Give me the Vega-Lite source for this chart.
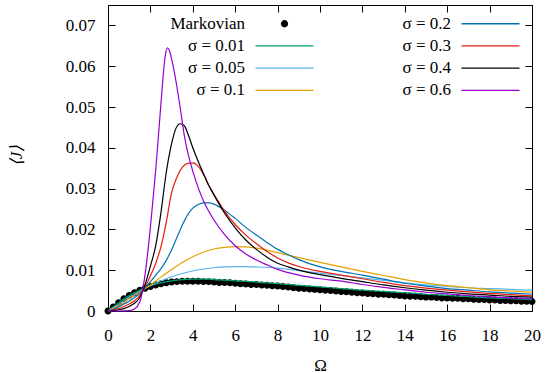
{
  "$schema": "https://vega.github.io/schema/vega-lite/v6.json",
  "width": 424,
  "height": 306,
  "autosize": {"type": "none"},
  "padding": {"left": 108, "top": 5, "right": 14, "bottom": 62},
  "background": "white",
  "config": {
    "view": {"stroke": "#000", "strokeWidth": 1},
    "font": "Liberation Serif",
    "axis": {"labelFont": "Liberation Serif", "labelFontSize": 17, "labelColor": "#000", "titleFont": "Liberation Serif", "titleFontSize": 17, "titleFontWeight": "normal", "titleColor": "#000", "tickColor": "#000", "tickWidth": 1, "grid": false, "domain": false, "labelFlush": false, "labelOverlap": false, "labelBound": false}
  },
  "data": {"values": [
    {"s":"Markovian","w":0,"j":0},{"s":"Markovian","w":0.25,"j":0.0010},{"s":"Markovian","w":0.5,"j":0.0020},{"s":"Markovian","w":0.75,"j":0.0030},{"s":"Markovian","w":1,"j":0.0038},{"s":"Markovian","w":1.25,"j":0.0045},{"s":"Markovian","w":1.5,"j":0.0051},{"s":"Markovian","w":1.75,"j":0.0056},{"s":"Markovian","w":2,"j":0.0060},{"s":"Markovian","w":2.25,"j":0.0064},{"s":"Markovian","w":2.5,"j":0.0067},{"s":"Markovian","w":2.75,"j":0.0069},{"s":"Markovian","w":3,"j":0.0071},{"s":"Markovian","w":3.25,"j":0.0072},{"s":"Markovian","w":3.5,"j":0.0073},{"s":"Markovian","w":3.75,"j":0.0073},{"s":"Markovian","w":4,"j":0.0073},{"s":"Markovian","w":4.25,"j":0.0073},{"s":"Markovian","w":4.5,"j":0.0072},{"s":"Markovian","w":4.75,"j":0.0072},{"s":"Markovian","w":5,"j":0.0071},{"s":"Markovian","w":5.25,"j":0.0070},{"s":"Markovian","w":5.5,"j":0.0070},{"s":"Markovian","w":5.75,"j":0.0069},{"s":"Markovian","w":6,"j":0.0068},{"s":"Markovian","w":6.25,"j":0.0067},{"s":"Markovian","w":6.5,"j":0.0066},{"s":"Markovian","w":6.75,"j":0.0065},{"s":"Markovian","w":7,"j":0.0065},{"s":"Markovian","w":7.25,"j":0.0064},{"s":"Markovian","w":7.5,"j":0.0063},{"s":"Markovian","w":7.75,"j":0.0062},{"s":"Markovian","w":8,"j":0.0061},{"s":"Markovian","w":8.25,"j":0.0060},{"s":"Markovian","w":8.5,"j":0.0059},{"s":"Markovian","w":8.75,"j":0.0057},{"s":"Markovian","w":9,"j":0.0056},{"s":"Markovian","w":9.25,"j":0.0055},{"s":"Markovian","w":9.5,"j":0.0054},{"s":"Markovian","w":9.75,"j":0.0053},{"s":"Markovian","w":10,"j":0.0052},{"s":"Markovian","w":10.25,"j":0.0051},{"s":"Markovian","w":10.5,"j":0.0050},{"s":"Markovian","w":10.75,"j":0.0049},{"s":"Markovian","w":11,"j":0.0048},{"s":"Markovian","w":11.25,"j":0.0047},{"s":"Markovian","w":11.5,"j":0.0046},{"s":"Markovian","w":11.75,"j":0.0045},{"s":"Markovian","w":12,"j":0.0044},{"s":"Markovian","w":12.25,"j":0.0043},{"s":"Markovian","w":12.5,"j":0.0042},{"s":"Markovian","w":12.75,"j":0.0041},{"s":"Markovian","w":13,"j":0.0041},{"s":"Markovian","w":13.25,"j":0.0040},{"s":"Markovian","w":13.5,"j":0.0039},{"s":"Markovian","w":13.75,"j":0.0038},{"s":"Markovian","w":14,"j":0.0037},{"s":"Markovian","w":14.25,"j":0.0036},{"s":"Markovian","w":14.5,"j":0.0036},{"s":"Markovian","w":14.75,"j":0.0035},{"s":"Markovian","w":15,"j":0.0034},{"s":"Markovian","w":15.25,"j":0.0034},{"s":"Markovian","w":15.5,"j":0.0033},{"s":"Markovian","w":15.75,"j":0.0032},{"s":"Markovian","w":16,"j":0.0032},{"s":"Markovian","w":16.25,"j":0.0031},{"s":"Markovian","w":16.5,"j":0.0031},{"s":"Markovian","w":16.75,"j":0.0030},{"s":"Markovian","w":17,"j":0.0030},{"s":"Markovian","w":17.25,"j":0.0029},{"s":"Markovian","w":17.5,"j":0.0028},{"s":"Markovian","w":17.75,"j":0.0028},{"s":"Markovian","w":18,"j":0.0027},{"s":"Markovian","w":18.25,"j":0.0027},{"s":"Markovian","w":18.5,"j":0.0026},{"s":"Markovian","w":18.75,"j":0.0026},{"s":"Markovian","w":19,"j":0.0025},{"s":"Markovian","w":19.25,"j":0.0025},{"s":"Markovian","w":19.5,"j":0.0024},{"s":"Markovian","w":19.75,"j":0.0024},{"s":"Markovian","w":20,"j":0.0023},

    {"s":"σ = 0.01","w":0,"j":0},{"s":"σ = 0.01","w":0.25,"j":0.0010},{"s":"σ = 0.01","w":0.5,"j":0.0020},{"s":"σ = 0.01","w":0.75,"j":0.0030},{"s":"σ = 0.01","w":1,"j":0.0038},{"s":"σ = 0.01","w":1.25,"j":0.0045},{"s":"σ = 0.01","w":1.5,"j":0.0051},{"s":"σ = 0.01","w":1.75,"j":0.0057},{"s":"σ = 0.01","w":2,"j":0.0062},{"s":"σ = 0.01","w":2.5,"j":0.0069},{"s":"σ = 0.01","w":3,"j":0.0074},{"s":"σ = 0.01","w":3.5,"j":0.0077},{"s":"σ = 0.01","w":4,"j":0.0078},{"s":"σ = 0.01","w":4.5,"j":0.0078},{"s":"σ = 0.01","w":5,"j":0.0077},{"s":"σ = 0.01","w":6,"j":0.0074},{"s":"σ = 0.01","w":7,"j":0.0071},{"s":"σ = 0.01","w":8,"j":0.0067},{"s":"σ = 0.01","w":9,"j":0.0063},{"s":"σ = 0.01","w":10,"j":0.0059},{"s":"σ = 0.01","w":11,"j":0.0055},{"s":"σ = 0.01","w":12,"j":0.0051},{"s":"σ = 0.01","w":13,"j":0.0048},{"s":"σ = 0.01","w":14,"j":0.0045},{"s":"σ = 0.01","w":15,"j":0.0041},{"s":"σ = 0.01","w":16,"j":0.0038},{"s":"σ = 0.01","w":17,"j":0.0035},{"s":"σ = 0.01","w":18,"j":0.0032},{"s":"σ = 0.01","w":19,"j":0.0030},{"s":"σ = 0.01","w":20,"j":0.0028},

    {"s":"σ = 0.05","w":0,"j":0},{"s":"σ = 0.05","w":0.25,"j":0.0008},{"s":"σ = 0.05","w":0.5,"j":0.0016},{"s":"σ = 0.05","w":0.75,"j":0.0025},{"s":"σ = 0.05","w":1,"j":0.0034},{"s":"σ = 0.05","w":1.25,"j":0.0041},{"s":"σ = 0.05","w":1.5,"j":0.0048},{"s":"σ = 0.05","w":1.75,"j":0.0055},{"s":"σ = 0.05","w":2,"j":0.0062},{"s":"σ = 0.05","w":2.5,"j":0.0074},{"s":"σ = 0.05","w":3,"j":0.0084},{"s":"σ = 0.05","w":3.5,"j":0.0092},{"s":"σ = 0.05","w":4,"j":0.0098},{"s":"σ = 0.05","w":4.5,"j":0.0103},{"s":"σ = 0.05","w":5,"j":0.0106},{"s":"σ = 0.05","w":5.5,"j":0.0108},{"s":"σ = 0.05","w":6,"j":0.0109},{"s":"σ = 0.05","w":6.5,"j":0.0109},{"s":"σ = 0.05","w":7,"j":0.0108},{"s":"σ = 0.05","w":8,"j":0.0105},{"s":"σ = 0.05","w":9,"j":0.0099},{"s":"σ = 0.05","w":10,"j":0.0093},{"s":"σ = 0.05","w":11,"j":0.0087},{"s":"σ = 0.05","w":12,"j":0.0081},{"s":"σ = 0.05","w":13,"j":0.0075},{"s":"σ = 0.05","w":14,"j":0.0069},{"s":"σ = 0.05","w":15,"j":0.0064},{"s":"σ = 0.05","w":16,"j":0.0060},{"s":"σ = 0.05","w":17,"j":0.0057},{"s":"σ = 0.05","w":18,"j":0.0055},{"s":"σ = 0.05","w":19,"j":0.0053},{"s":"σ = 0.05","w":20,"j":0.0051},

    {"s":"σ = 0.1","w":0,"j":0},{"s":"σ = 0.1","w":0.25,"j":0.0006},{"s":"σ = 0.1","w":0.5,"j":0.0013},{"s":"σ = 0.1","w":0.75,"j":0.0021},{"s":"σ = 0.1","w":1,"j":0.0030},{"s":"σ = 0.1","w":1.25,"j":0.0038},{"s":"σ = 0.1","w":1.5,"j":0.0046},{"s":"σ = 0.1","w":1.75,"j":0.0055},{"s":"σ = 0.1","w":2,"j":0.0064},{"s":"σ = 0.1","w":2.5,"j":0.0083},{"s":"σ = 0.1","w":3,"j":0.0102},{"s":"σ = 0.1","w":3.5,"j":0.0119},{"s":"σ = 0.1","w":4,"j":0.0133},{"s":"σ = 0.1","w":4.5,"j":0.0144},{"s":"σ = 0.1","w":5,"j":0.0152},{"s":"σ = 0.1","w":5.5,"j":0.0156},{"s":"σ = 0.1","w":6,"j":0.0158},{"s":"σ = 0.1","w":6.5,"j":0.0157},{"s":"σ = 0.1","w":7,"j":0.0154},{"s":"σ = 0.1","w":7.5,"j":0.0149},{"s":"σ = 0.1","w":8,"j":0.0143},{"s":"σ = 0.1","w":9,"j":0.0131},{"s":"σ = 0.1","w":10,"j":0.0119},{"s":"σ = 0.1","w":11,"j":0.0108},{"s":"σ = 0.1","w":12,"j":0.0097},{"s":"σ = 0.1","w":13,"j":0.0087},{"s":"σ = 0.1","w":14,"j":0.0077},{"s":"σ = 0.1","w":15,"j":0.0069},{"s":"σ = 0.1","w":16,"j":0.0062},{"s":"σ = 0.1","w":17,"j":0.0057},{"s":"σ = 0.1","w":18,"j":0.0052},{"s":"σ = 0.1","w":19,"j":0.0049},{"s":"σ = 0.1","w":20,"j":0.0046},

    {"s":"σ = 0.2","w":0,"j":0},{"s":"σ = 0.2","w":0.25,"j":0.0004},{"s":"σ = 0.2","w":0.5,"j":0.0010},{"s":"σ = 0.2","w":0.75,"j":0.0017},{"s":"σ = 0.2","w":1,"j":0.0024},{"s":"σ = 0.2","w":1.25,"j":0.0033},{"s":"σ = 0.2","w":1.5,"j":0.0043},{"s":"σ = 0.2","w":1.75,"j":0.0057},{"s":"σ = 0.2","w":2,"j":0.0072},{"s":"σ = 0.2","w":2.25,"j":0.0088},{"s":"σ = 0.2","w":2.5,"j":0.0104},{"s":"σ = 0.2","w":2.75,"j":0.0124},{"s":"σ = 0.2","w":3,"j":0.0150},{"s":"σ = 0.2","w":3.25,"j":0.0180},{"s":"σ = 0.2","w":3.5,"j":0.0210},{"s":"σ = 0.2","w":3.75,"j":0.0235},{"s":"σ = 0.2","w":4,"j":0.0252},{"s":"σ = 0.2","w":4.25,"j":0.0261},{"s":"σ = 0.2","w":4.5,"j":0.0265},{"s":"σ = 0.2","w":4.75,"j":0.0265},{"s":"σ = 0.2","w":5,"j":0.0262},{"s":"σ = 0.2","w":5.5,"j":0.0247},{"s":"σ = 0.2","w":6,"j":0.0227},{"s":"σ = 0.2","w":6.5,"j":0.0205},{"s":"σ = 0.2","w":7,"j":0.0186},{"s":"σ = 0.2","w":7.5,"j":0.0168},{"s":"σ = 0.2","w":8,"j":0.0151},{"s":"σ = 0.2","w":8.5,"j":0.0138},{"s":"σ = 0.2","w":9,"j":0.0126},{"s":"σ = 0.2","w":10,"j":0.0108},{"s":"σ = 0.2","w":11,"j":0.0097},{"s":"σ = 0.2","w":12,"j":0.0088},{"s":"σ = 0.2","w":13,"j":0.0078},{"s":"σ = 0.2","w":14,"j":0.0068},{"s":"σ = 0.2","w":15,"j":0.0061},{"s":"σ = 0.2","w":16,"j":0.0055},{"s":"σ = 0.2","w":17,"j":0.0051},{"s":"σ = 0.2","w":18,"j":0.0047},{"s":"σ = 0.2","w":19,"j":0.0044},{"s":"σ = 0.2","w":20,"j":0.0041},

    {"s":"σ = 0.3","w":0,"j":0},{"s":"σ = 0.3","w":0.25,"j":0.0002},{"s":"σ = 0.3","w":0.5,"j":0.0006},{"s":"σ = 0.3","w":0.75,"j":0.0011},{"s":"σ = 0.3","w":1,"j":0.0017},{"s":"σ = 0.3","w":1.25,"j":0.0025},{"s":"σ = 0.3","w":1.5,"j":0.0038},{"s":"σ = 0.3","w":1.75,"j":0.0060},{"s":"σ = 0.3","w":2,"j":0.0086},{"s":"σ = 0.3","w":2.25,"j":0.0117},{"s":"σ = 0.3","w":2.5,"j":0.0158},{"s":"σ = 0.3","w":2.75,"j":0.0218},{"s":"σ = 0.3","w":3,"j":0.0290},{"s":"σ = 0.3","w":3.25,"j":0.0328},{"s":"σ = 0.3","w":3.5,"j":0.0352},{"s":"σ = 0.3","w":3.75,"j":0.0362},{"s":"σ = 0.3","w":4,"j":0.0363},{"s":"σ = 0.3","w":4.25,"j":0.0355},{"s":"σ = 0.3","w":4.5,"j":0.0335},{"s":"σ = 0.3","w":4.75,"j":0.0308},{"s":"σ = 0.3","w":5,"j":0.0286},{"s":"σ = 0.3","w":5.5,"j":0.0245},{"s":"σ = 0.3","w":6,"j":0.0212},{"s":"σ = 0.3","w":6.5,"j":0.0186},{"s":"σ = 0.3","w":7,"j":0.0165},{"s":"σ = 0.3","w":7.5,"j":0.0146},{"s":"σ = 0.3","w":8,"j":0.0130},{"s":"σ = 0.3","w":8.5,"j":0.0118},{"s":"σ = 0.3","w":9,"j":0.0109},{"s":"σ = 0.3","w":10,"j":0.0097},{"s":"σ = 0.3","w":11,"j":0.0088},{"s":"σ = 0.3","w":12,"j":0.0079},{"s":"σ = 0.3","w":13,"j":0.0070},{"s":"σ = 0.3","w":14,"j":0.0062},{"s":"σ = 0.3","w":15,"j":0.0056},{"s":"σ = 0.3","w":16,"j":0.0051},{"s":"σ = 0.3","w":17,"j":0.0047},{"s":"σ = 0.3","w":18,"j":0.0043},{"s":"σ = 0.3","w":19,"j":0.0040},{"s":"σ = 0.3","w":20,"j":0.0037},

    {"s":"σ = 0.4","w":0,"j":0},{"s":"σ = 0.4","w":0.25,"j":0.0001},{"s":"σ = 0.4","w":0.5,"j":0.0003},{"s":"σ = 0.4","w":0.75,"j":0.0006},{"s":"σ = 0.4","w":1,"j":0.0011},{"s":"σ = 0.4","w":1.25,"j":0.0019},{"s":"σ = 0.4","w":1.5,"j":0.0033},{"s":"σ = 0.4","w":1.75,"j":0.0065},{"s":"σ = 0.4","w":2,"j":0.0110},{"s":"σ = 0.4","w":2.25,"j":0.0160},{"s":"σ = 0.4","w":2.5,"j":0.0242},{"s":"σ = 0.4","w":2.75,"j":0.0340},{"s":"σ = 0.4","w":3,"j":0.0410},{"s":"σ = 0.4","w":3.2,"j":0.0447},{"s":"σ = 0.4","w":3.4,"j":0.0459},{"s":"σ = 0.4","w":3.6,"j":0.0454},{"s":"σ = 0.4","w":3.8,"j":0.0430},{"s":"σ = 0.4","w":4,"j":0.0400},{"s":"σ = 0.4","w":4.25,"j":0.0367},{"s":"σ = 0.4","w":4.5,"j":0.0337},{"s":"σ = 0.4","w":4.75,"j":0.0308},{"s":"σ = 0.4","w":5,"j":0.0284},{"s":"σ = 0.4","w":5.5,"j":0.0240},{"s":"σ = 0.4","w":6,"j":0.0204},{"s":"σ = 0.4","w":6.5,"j":0.0174},{"s":"σ = 0.4","w":7,"j":0.0151},{"s":"σ = 0.4","w":7.5,"j":0.0132},{"s":"σ = 0.4","w":8,"j":0.0117},{"s":"σ = 0.4","w":8.5,"j":0.0108},{"s":"σ = 0.4","w":9,"j":0.0100},{"s":"σ = 0.4","w":10,"j":0.0089},{"s":"σ = 0.4","w":11,"j":0.0080},{"s":"σ = 0.4","w":12,"j":0.0072},{"s":"σ = 0.4","w":13,"j":0.0064},{"s":"σ = 0.4","w":14,"j":0.0057},{"s":"σ = 0.4","w":15,"j":0.0051},{"s":"σ = 0.4","w":16,"j":0.0046},{"s":"σ = 0.4","w":17,"j":0.0042},{"s":"σ = 0.4","w":18,"j":0.0039},{"s":"σ = 0.4","w":19,"j":0.0036},{"s":"σ = 0.4","w":20,"j":0.0034},

    {"s":"σ = 0.6","w":0,"j":0},{"s":"σ = 0.6","w":0.5,"j":0},{"s":"σ = 0.6","w":1,"j":0.0001},{"s":"σ = 0.6","w":1.25,"j":0.0005},{"s":"σ = 0.6","w":1.5,"j":0.0022},{"s":"σ = 0.6","w":1.75,"j":0.0090},{"s":"σ = 0.6","w":2,"j":0.0205},{"s":"σ = 0.6","w":2.25,"j":0.0345},{"s":"σ = 0.6","w":2.5,"j":0.0510},{"s":"σ = 0.6","w":2.6,"j":0.0575},{"s":"σ = 0.6","w":2.7,"j":0.0625},{"s":"σ = 0.6","w":2.8,"j":0.0645},{"s":"σ = 0.6","w":2.9,"j":0.0638},{"s":"σ = 0.6","w":3,"j":0.0618},{"s":"σ = 0.6","w":3.2,"j":0.0565},{"s":"σ = 0.6","w":3.4,"j":0.0500},{"s":"σ = 0.6","w":3.6,"j":0.0430},{"s":"σ = 0.6","w":3.8,"j":0.0380},{"s":"σ = 0.6","w":4,"j":0.0343},{"s":"σ = 0.6","w":4.25,"j":0.0303},{"s":"σ = 0.6","w":4.5,"j":0.0270},{"s":"σ = 0.6","w":5,"j":0.0223},{"s":"σ = 0.6","w":5.5,"j":0.0187},{"s":"σ = 0.6","w":6,"j":0.0160},{"s":"σ = 0.6","w":6.5,"j":0.0140},{"s":"σ = 0.6","w":7,"j":0.0125},{"s":"σ = 0.6","w":7.5,"j":0.0113},{"s":"σ = 0.6","w":8,"j":0.0102},{"s":"σ = 0.6","w":9,"j":0.0088},{"s":"σ = 0.6","w":10,"j":0.0079},{"s":"σ = 0.6","w":11,"j":0.0073},{"s":"σ = 0.6","w":12,"j":0.0065},{"s":"σ = 0.6","w":13,"j":0.0058},{"s":"σ = 0.6","w":14,"j":0.0052},{"s":"σ = 0.6","w":15,"j":0.0046},{"s":"σ = 0.6","w":16,"j":0.0042},{"s":"σ = 0.6","w":17,"j":0.0038},{"s":"σ = 0.6","w":18,"j":0.0035},{"s":"σ = 0.6","w":19,"j":0.0032},{"s":"σ = 0.6","w":20,"j":0.0030}
  ]},
  "encoding": {
    "x": {"field": "w", "type": "quantitative", "scale": {"domain": [0, 20], "nice": false, "zero": false}, "axis": null},
    "y": {"field": "j", "type": "quantitative", "scale": {"domain": [0, 0.075], "nice": false}, "axis": null},
    "color": {
      "field": "s", "type": "nominal",
      "scale": {
        "domain": ["Markovian", "σ = 0.01", "σ = 0.05", "σ = 0.1", "σ = 0.2", "σ = 0.3", "σ = 0.4", "σ = 0.6"],
        "range": ["#000000", "#009e73", "#56b4e9", "#e69f00", "#0072b2", "#e51e10", "#000000", "#9400d3"]
      },
      "legend": {
        "orient": "none", "legendX": 168, "legendY": 10, "columns": 2, "title": null, "padding": 0,
        "columnPadding": 85, "rowPadding": 4.3,
        "symbolType": "stroke", "symbolSize": 93.4, "symbolStrokeWidth": 1.3, "symbolOffset": 0,
        "labelFont": "Liberation Serif", "labelFontSize": 17, "labelColor": "#000", "labelAlign": "right", "labelBaseline": "middle", "labelLimit": 200, "labelOffset": -48
      }
    }
  },
  "layer": [
    {
      "transform": [{"filter": "datum.s === 'Markovian'"}],
      "mark": {"type": "point", "filled": true, "size": 127, "opacity": 1},
      "encoding": {
        "shape": {
          "field": "s", "type": "nominal",
          "scale": {
            "domain": ["Markovian", "σ = 0.01", "σ = 0.05", "σ = 0.1", "σ = 0.2", "σ = 0.3", "σ = 0.4", "σ = 0.6"],
            "range": ["M-0.62,0A0.62,0.62,0,1,0,0.62,0A0.62,0.62,0,1,0,-0.62,0Z", "M-6,0H6", "M-6,0H6", "M-6,0H6", "M-6,0H6", "M-6,0H6", "M-6,0H6", "M-6,0H6"]
          },
          "legend": {"orient": "none", "legendX": 168, "legendY": 10, "columns": 2, "title": null}
        }
      }
    },
    {
      "transform": [{"filter": "datum.s !== 'Markovian'"}],
      "mark": {"type": "line", "interpolate": "monotone", "strokeWidth": 1.2},
      "encoding": {
        "x": {"field": "w", "type": "quantitative", "scale": {"domain": [0, 20], "nice": false, "zero": false},
          "axis": {"orient": "bottom", "values": [0, 2, 4, 6, 8, 10, 12, 14, 16, 18, 20], "format": "d", "tickSize": -7, "labelPadding": 23, "title": "Ω", "titleX": 212, "titleY": 59, "titleAlign": "center", "titleBaseline": "alphabetic"}},
        "y": {"field": "j", "type": "quantitative", "scale": {"domain": [0, 0.075], "nice": false},
          "axis": {"orient": "left", "values": [0, 0.01, 0.02, 0.03, 0.04, 0.05, 0.06, 0.07], "format": ".2~f", "tickSize": -7, "labelPadding": 20, "title": "⟨J⟩", "titleFontStyle": "italic", "titleAngle": 270, "titleX": -92, "titleY": 150, "titleAlign": "center", "titleBaseline": "middle"}}
      }
    },
    {
      "transform": [{"filter": "datum.s === 'Markovian'"}],
      "mark": {"type": "point", "opacity": 0},
      "encoding": {
        "color": {"value": "transparent"},
        "x": {"field": "w", "type": "quantitative", "scale": {"domain": [0, 20], "nice": false, "zero": false},
          "axis": {"orient": "top", "values": [0, 2, 4, 6, 8, 10, 12, 14, 16, 18, 20], "tickSize": -7, "labels": false, "title": null}},
        "y": {"field": "j", "type": "quantitative", "scale": {"domain": [0, 0.075], "nice": false},
          "axis": {"orient": "right", "values": [0, 0.01, 0.02, 0.03, 0.04, 0.05, 0.06, 0.07], "tickSize": -7, "labels": false, "title": null}}
      }
    }
  ],
  "resolve": {"axis": {"x": "independent", "y": "independent"}}
}
